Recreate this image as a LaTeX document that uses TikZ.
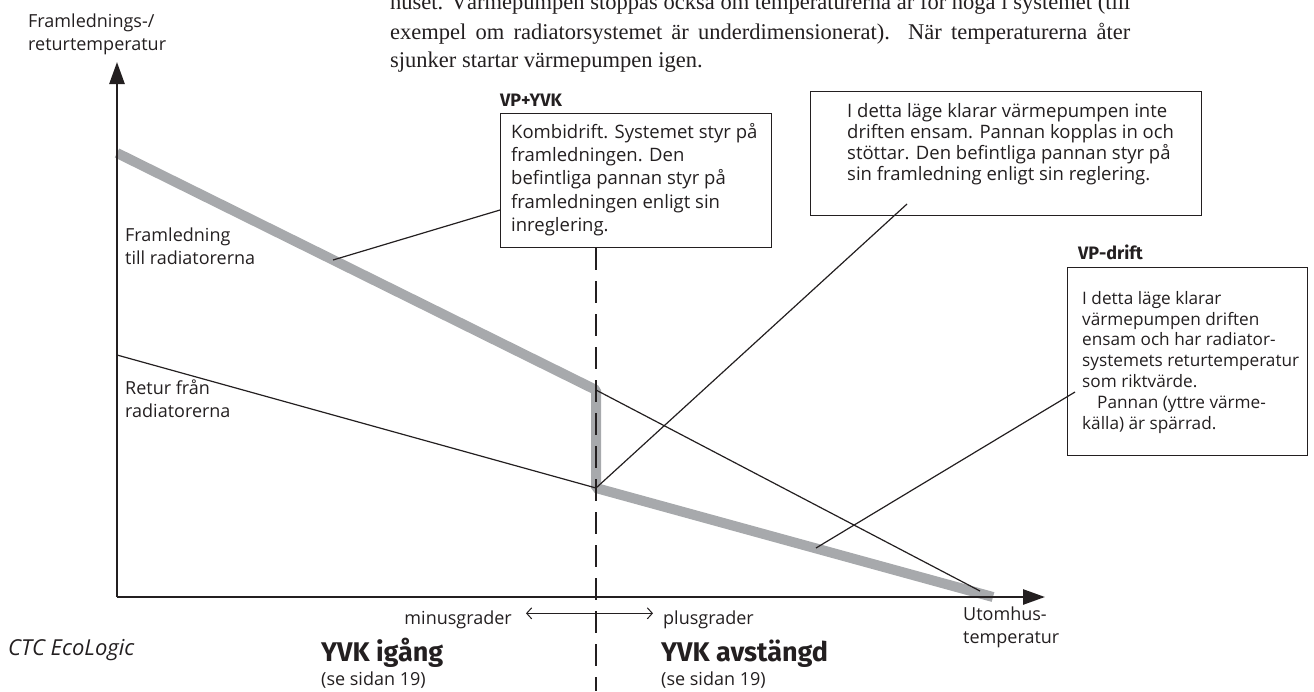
\documentclass[tikz,border=0pt]{standalone}
\usepackage{fontspec}
\setmainfont{Liberation Serif}
\setsansfont{Open Sans}
\newfontfamily\boldsans{Fira Sans}
\usetikzlibrary{arrows.meta}
\definecolor{ink}{HTML}{231F20}
\definecolor{band}{HTML}{A7A9AC}
\begin{document}
\begin{tikzpicture}[x=1pt,y=-1pt,
  every node/.style={inner sep=0pt, text=ink},
  sans/.style={font=\sffamily\fontsize{18}{23}\selectfont, align=left},
  serifline/.style={font=\rmfamily\fontsize{22.5}{28}\selectfont, anchor=base west},
  boldlab/.style={font=\boldsans\bfseries\fontsize{18}{22}\selectfont, anchor=base west},
  biglab/.style={font=\boldsans\bfseries\fontsize{27}{30}\selectfont, anchor=base west},
  frame/.style={draw=ink, line width=1.2pt, anchor=north west},
  btext/.style={font=\sffamily\fontsize{18.5}{21}\selectfont, align=left, anchor=north west},
  thinline/.style={draw=ink, line width=1.2pt},
  bandline/.style={draw=band, line width=10pt, line join=bevel},
  axisline/.style={draw=ink, line width=2.6pt, -{Triangle[length=22pt,width=15pt]}},
  divider/.style={draw=ink, line width=2.5pt, dash pattern=on 22pt off 11pt},
  twoway/.style={draw=ink, line width=1pt, {Straight Barb[length=5pt,width=11pt]}-{Straight Barb[length=5pt,width=11pt]}}
]
\useasboundingbox (0,0) rectangle (1314,691);

% paragraph text at top
\node[serifline] (p1) at (390,9) {\makebox[740pt][s]{huset. Värmepumpen stoppas också om temperaturerna är för höga i systemet (till}};
\node[serifline] (p2) at (390,39) {\makebox[740pt][s]{exempel om radiatorsystemet är underdimensionerat). När temperaturerna åter}};
\node[serifline] (p3) at (390,67) {sjunker startar värmepumpen igen.};

% key points of the curves
\coordinate (o) at (117,597);
\coordinate (ytop) at (117,62);
\coordinate (xend) at (1045,597);
\coordinate (fs) at (117,153);
\coordinate (rs) at (117,355);
\coordinate (jt) at (596,390);
\coordinate (jb) at (596,488);
\coordinate (fe) at (993,597);
\coordinate (fe2) at (980,591);
\coordinate (dtop) at (596,248);
\coordinate (dbot) at (596,691);

% curves
\draw[bandline] (fs) -- (jt) -- (jb) -- (fe);
\draw[thinline] (rs) -- (jb);
\draw[thinline] (jt) -- (fe2);

% divider
\draw[divider] (dtop) -- (dbot);

% axes
\draw[axisline] (o) -- (ytop);
\draw[axisline] (o) -- (xend);

% axis labels
\node[sans, anchor=north west] (ylab) at (28,14) {Framlednings-/\\returtemperatur};
\node[sans, anchor=north west] (xlab) at (963,607) {Utomhus-\\temperatur};
\node[sans, anchor=north west] (flab) at (125,228) {Framledning\\till radiatorerna};
\node[sans, anchor=north west] (rlab) at (125,380) {Retur från\\radiatorerna};

% boxes
\node[boldlab] (h1) at (500,106) {VP+YVK};
\node[frame, minimum width=271pt, minimum height=134pt] (box1) at (500,113) {};
\node[btext, font=\sffamily\fontsize{18.5}{23.3}\selectfont] (t1) at (511,123) {Kombidrift. Systemet styr på\\framledningen. Den\\befintliga pannan styr på\\framledningen enligt sin\\inreglering.};

\node[frame, minimum width=391pt, minimum height=124pt] (box2) at (810,91) {};
\node[btext] (t2) at (847,103) {I detta läge klarar värmepumpen inte\\driften ensam. Pannan kopplas in och\\stöttar. Den befintliga pannan styr på\\sin framledning enligt sin reglering.};

\node[boldlab] (h3) at (1078,259) {VP-drift};
\node[frame, minimum width=240pt, minimum height=188pt] (box3) at (1067,267) {};
\node[btext, font=\sffamily\fontsize{17.2}{20.8}\selectfont] (t3) at (1082,291) {I detta läge klarar\\värmepumpen driften\\ensam och har radiator-\\systemets returtemperatur\\som riktvärde.\\\hspace*{15pt}Pannan (yttre värme-\\källa) är spärrad.};

% leaders
\coordinate (l1a) at (333,260);
\coordinate (l1b) at (500,210);
\coordinate (l2a) at (907,204);
\coordinate (l3a) at (1075,392);
\coordinate (l3b) at (816,548);
\draw[thinline] (l1a) -- (l1b);
\draw[thinline] (l2a) -- (jb);
\draw[thinline] (l3a) -- (l3b);

% bottom labels
\node[sans, anchor=base east] (minus) at (512,624) {minusgrader};
\node[sans, anchor=base west] (plus) at (663,624) {plusgrader};
\path (minus.east) ++(14,-6) coordinate (da);
\path (plus.west) ++(-10,-6) coordinate (db);
\draw[twoway] (da) -- (db);

\node[biglab] (on) at (321,661) {YVK igång};
\node[sans, anchor=base west] (on2) at (321,685) {(se sidan 19)};
\node[biglab] (off) at (661,661) {YVK avstängd};
\node[sans, anchor=base west] (off2) at (661,685) {(se sidan 19)};

\node[font=\sffamily\itshape\fontsize{22}{26}\selectfont, anchor=base west] (brand) at (8,655) {CTC EcoLogic};
\end{tikzpicture}
\end{document}
